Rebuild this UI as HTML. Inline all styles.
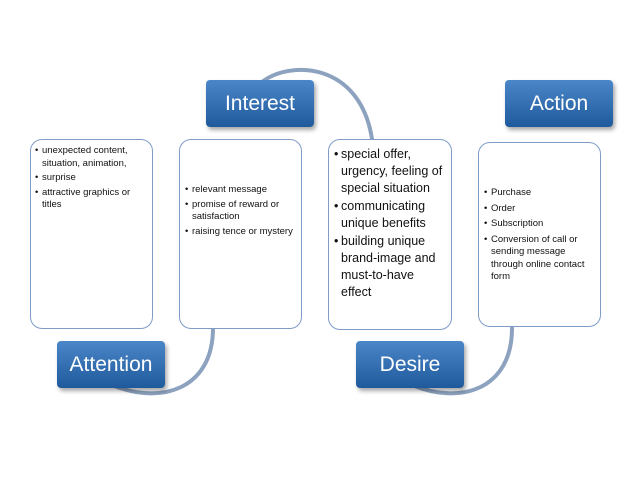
<!DOCTYPE html>
<html><head><style>
body{margin:0;width:638px;height:479px;background:#fff;position:relative;overflow:hidden;font-family:"Liberation Sans",sans-serif}
.box{position:absolute;border:1px solid #7f9cc7;border-radius:12px;background:#fff;box-sizing:border-box;color:#111}
.lab{position:absolute;width:108px;height:47px;border-radius:4px;background:linear-gradient(#4a86c8,#1f5a9c);color:#fff;font-size:21px;text-align:center;line-height:47px;box-shadow:2px 3px 4px rgba(0,0,0,.35)}
ul{margin:0;padding:0;list-style:none}
li{position:relative;padding-left:7px}
li:before{content:"•";position:absolute;left:0}
.s{font-size:9.5px;line-height:12.5px}
.b{font-size:12.5px;line-height:17px}
</style></head><body>
<svg width="638" height="479" style="position:absolute;left:0;top:0">
<g fill="none" stroke="#8ca2bf" stroke-width="4" stroke-linecap="round">
<path d="M262 82 C290 60 360 62 372 139"/>
<path d="M213 328 C213 390 160 405 112 385"/>
<path d="M512 328 C512 390 460 405 412 385"/>
</g></svg>
<div class="box" style="left:30px;top:139px;width:123px;height:190px;padding:5px 4px">
<ul class="s"><li>unexpected content, situation, animation,</li><li style="margin-top:2px">surprise</li><li style="margin-top:2px">attractive graphics or titles</li></ul></div>
<div class="box" style="left:179px;top:139px;width:123px;height:190px;padding:44px 4px 4px 5px">
<ul class="s"><li>relevant message</li><li style="margin-top:2px">promise of reward or satisfaction</li><li style="margin-top:2px">raising tence or mystery</li></ul></div>
<div class="box" style="left:328px;top:139px;width:124px;height:191px;padding:6px 4px 4px 5px">
<ul class="b"><li>special offer, urgency, feeling of special situation</li><li style="margin-top:1px">communicating unique benefits</li><li style="margin-top:1px">building unique brand-image and must-to-have effect</li></ul></div>
<div class="box" style="left:478px;top:142px;width:123px;height:185px;padding:44px 4px 4px 5px">
<ul class="s"><li>Purchase</li><li style="margin-top:3px">Order</li><li style="margin-top:3px">Subscription</li><li style="margin-top:3px">Conversion of call or sending message through online contact form</li></ul></div>
<div class="lab" style="left:206px;top:80px">Interest</div>
<div class="lab" style="left:505px;top:80px">Action</div>
<div class="lab" style="left:57px;top:341px">Attention</div>
<div class="lab" style="left:356px;top:341px">Desire</div>
</body></html>
